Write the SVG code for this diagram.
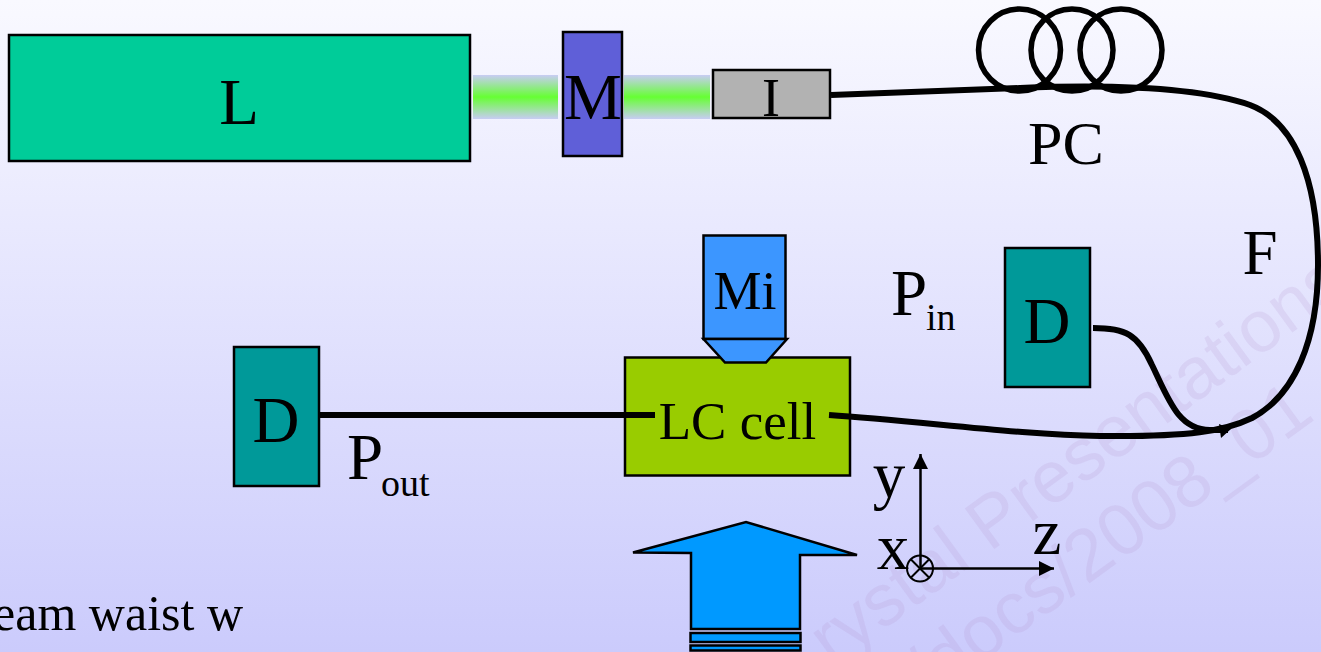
<svg xmlns="http://www.w3.org/2000/svg" width="1321" height="652" viewBox="0 0 1321 652">
<defs>
<linearGradient id="bg" x1="0" y1="0" x2="0" y2="1"><stop offset="0" stop-color="#f9f9ff"/><stop offset="1" stop-color="#cbcbfc"/></linearGradient>
<linearGradient id="beam" x1="0" y1="0" x2="0" y2="1"><stop offset="0" stop-color="#c8ccf4"/><stop offset=".5" stop-color="#66ff33"/><stop offset="1" stop-color="#c8ccf4"/></linearGradient>
<marker id="ah" markerUnits="userSpaceOnUse" markerWidth="16" markerHeight="16" refX="15" refY="7.500" orient="auto"><path d="M0 0L15 7.500L0 15Z" fill="#000"/></marker>
</defs>
<style>
text{font-family:"Liberation Serif","Times New Roman",serif;fill:#000}
.t{font-size:65px;text-anchor:middle}
.s{font-size:38px}
.b{stroke:#000;stroke-width:2.500}
.w{font-family:"Liberation Sans",Arial,sans-serif;font-size:73px;fill:#b48cc8;fill-opacity:.17}
.f{fill:none;stroke:#000;stroke-width:6}
.a{fill:none;stroke:#000;stroke-width:2.500}
</style>
<rect width="1321" height="652" fill="url(#bg)"/>
<g id="watermark">
<text class="w" transform="translate(832 667) rotate(-36)">rystal Presentations</text>
<text class="w" transform="translate(929 700) rotate(-36)">/docs/2008_01_</text>
</g>
<g id="beams">
<rect x="473" y="75" width="85" height="44" fill="url(#beam)"/>
<rect x="624" y="75" width="86" height="44" fill="url(#beam)"/>
</g>
<g id="pc" fill="none" stroke="#000" stroke-width="5.500">
<circle cx="1019.500" cy="50" r="41"/><circle cx="1072" cy="50" r="41"/><circle cx="1121" cy="50" r="41"/>
</g>
<g id="node-l"><rect class="b" x="9" y="35" width="461" height="126" fill="#00cc99"/><text class="t" x="239" y="124">L</text></g>
<g id="node-m"><rect class="b" x="563" y="32" width="59" height="124" fill="#5f5fd8"/><text class="t" x="593" y="119">M</text></g>
<g id="node-i"><rect class="b" x="713" y="70" width="117" height="48" fill="#b2b2b2"/><text class="t" x="771" y="116" style="font-size:54px">I</text></g>
<g id="label-pc"><text class="t" x="1066" y="164" style="font-size:62px">PC</text></g>
<g id="label-f"><text class="t" x="1260" y="274" style="font-size:63px">F</text></g>
<g id="node-lc">
<rect class="b" x="625" y="357.500" width="225" height="118" fill="#99cc00"/>
<text class="t" x="737.500" y="439" style="font-size:53px">LC cell</text>
</g>
<g id="node-mi">
<rect class="b" x="703.500" y="235.500" width="82" height="103.500" fill="#3c96ff"/>
<path class="b" d="M703.500 339H787L766 362.500H725Z" fill="#3c96ff"/>
<text class="t" x="745" y="309" style="font-size:54px">Mi</text>
</g>
<g id="label-pin"><text x="891" y="315" style="font-size:65px">P</text><text class="s" x="926" y="330">in</text></g>
<g id="node-d1"><rect class="b" x="1005" y="248" width="85" height="139" fill="#009999"/><text class="t" x="1047" y="343">D</text></g>
<g id="node-d2"><rect class="b" x="234" y="347" width="85" height="139" fill="#009999"/><text class="t" x="276" y="442">D</text></g>
<g id="label-pout"><text x="347" y="479" style="font-size:65px">P</text><text class="s" x="381" y="496">out</text></g>
<g id="connectors">
<path class="f" d="M831 95C900 93 960 90 1020 88C1120 84 1200 88 1250 105C1295 122 1318 180 1318 265C1318 340 1295 395 1252 418C1225 431 1190 437 1100 436C1020 435 920 421 829 415"/>
<path class="f" d="M1093 328C1125 328 1138 334 1152 365C1168 398 1178 430 1210 430L1228 430"/>
<path d="M1219 424L1231 429L1221 438Z" fill="#000"/>
<path class="f" d="M318 415H655"/>
</g>
<g id="axes">
<path class="a" d="M920.500 570V454" marker-end="url(#ah)"/>
<path class="a" d="M920 568.500H1054" marker-end="url(#ah)"/>
<circle cx="920" cy="568.500" r="13" fill="none" stroke="#000" stroke-width="2"/>
<path d="M911 559.500L929 577.500M929 559.500L911 577.500" stroke="#000" stroke-width="2"/>
<text class="t" x="889" y="497">y</text><text class="t" x="893" y="569">x</text><text class="t" x="1047" y="554">z</text>
</g>
<g id="arrow">
<path class="b" d="M633 552.500L746 522L857 555H800V629H691V553Z" fill="#0099ff"/>
<rect class="b" x="690.500" y="633" width="110" height="9" fill="#0099ff"/>
<rect class="b" x="690.500" y="645.500" width="110" height="5" fill="#0099ff"/>
</g>
<g id="caption"><text x="243" y="630" text-anchor="end" style="font-size:50px">beam waist w</text></g>
</svg>
